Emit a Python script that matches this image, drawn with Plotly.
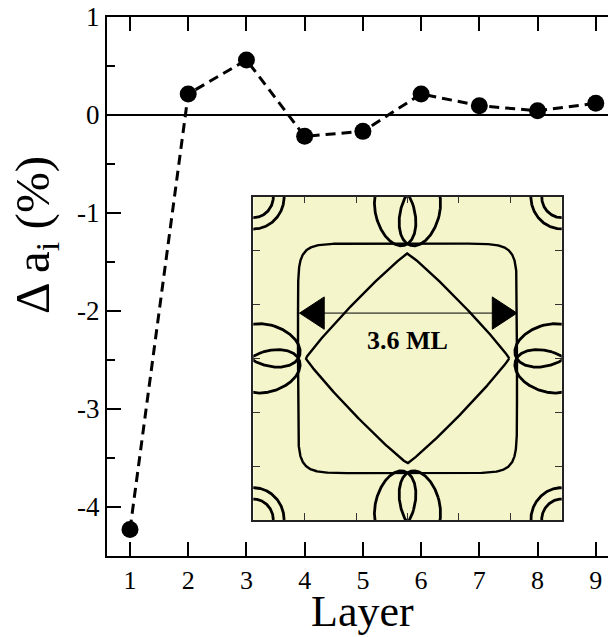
import numpy as np
import plotly.graph_objects as go

# ---- data ----
layers = [1, 2, 3, 4, 5, 6, 7, 8, 9]
delta_a = [-4.23, 0.215, 0.562, -0.218, -0.167, 0.215, 0.095, 0.044, 0.12]
x_ticks = [1, 2, 3, 4, 5, 6, 7, 8, 9]
x_tick_labels = ["1", "2", "3", "4", "5", "6", "7", "8", "9"]
y_ticks = [-4, -3, -2, -1, 0, 1]
y_tick_labels = ["-4", "-3", "-2", "-1", "0", "1"]

# ---- inset (Fermi-surface sketch) parameters ----
sq_half, sq_exp = 0.71, 10
dia_hx, dia_hy, dia_exp = 0.66, 0.65, 1.08
corner_radii = [0.13, 0.20]
leaf_center = (-0.08, 0.10)   # (along edge, depth)
leaf_axes = (0.125, 0.21)
leaf_tilt = 0.30
arrow_y, arrow_x0, arrow_x1 = 0.28, -0.70, 0.71
head_len, head_half = 0.16, 0.10
inset_label = "3.6 ML"
inset_tick_vals = [-1, -2/3, -1/3, 0, 1/3, 2/3, 1]

SERIF = "Liberation Serif"
W, H = 608, 637
ML, MR, MT, MB = 107, 0, 17, 81

fig = go.Figure()

fig.add_trace(go.Scatter(
    x=layers, y=delta_a, mode="lines+markers",
    line=dict(color="black", width=3, dash="10px,6px"),
    marker=dict(color="black", size=17),
    showlegend=False, hoverinfo="skip",
))

def add_curve(x, y, width=2.2, fill=None):
    fig.add_trace(go.Scatter(
        x=x, y=y, xaxis="x2", yaxis="y2", mode="lines",
        line=dict(color="black", width=width),
        fill=fill, fillcolor="black" if fill else None,
        showlegend=False, hoverinfo="skip",
    ))

t = np.linspace(0, 2 * np.pi, 721)

def superellipse(a, b, n):
    c, s = np.cos(t), np.sin(t)
    return a * np.sign(c) * np.abs(c) ** (2 / n), b * np.sign(s) * np.abs(s) ** (2 / n)

x, y = superellipse(sq_half, sq_half, sq_exp)
add_curve(x, y, 2.4)
x, y = superellipse(dia_hx, dia_hy, dia_exp)
add_curve(x, y, 2.4)

# corner pockets
for cx in (-1, 1):
    for cy in (-1, 1):
        for r in corner_radii:
            add_curve(cx + r * np.cos(t), cy + r * np.sin(t), 2.8)

# edge pockets (two tilted leaves each)
def leaf(sign):
    a, b = leaf_axes
    v0, u0 = leaf_center
    v0 *= sign
    phi = leaf_tilt * sign
    lv, lu = a * np.cos(t), b * np.sin(t)
    v = v0 + lv * np.cos(phi) + lu * np.sin(phi)
    u = u0 - lv * np.sin(phi) + lu * np.cos(phi)
    return v, u

for sign in (-1, 1):
    v, u = leaf(sign)
    add_curve(-1 + u, v, 2.8)
    add_curve(1 - u, v, 2.8)
    add_curve(v, 1 - u, 2.8)
    add_curve(v, -1 + u, 2.8)

# arrow
add_curve([arrow_x0, arrow_x1], [arrow_y, arrow_y], 1.0)
add_curve([arrow_x0, arrow_x0 + head_len, arrow_x0 + head_len, arrow_x0],
          [arrow_y, arrow_y + head_half, arrow_y - head_half, arrow_y], 1.0, fill="toself")
add_curve([arrow_x1, arrow_x1 - head_len, arrow_x1 - head_len, arrow_x1],
          [arrow_y, arrow_y + head_half, arrow_y - head_half, arrow_y], 1.0, fill="toself")

pw, ph = W - ML - MR, H - MT - MB
def px_x(p):
    return (p - ML) / pw
def px_y(p):
    return (H - MB - p) / ph

fig.update_layout(
    width=W, height=H,
    margin=dict(l=ML, r=MR, t=MT, b=MB),
    paper_bgcolor="white", plot_bgcolor="white",
    font=dict(family=SERIF, color="black"),
    xaxis=dict(
        range=[0.605, 9.21], tickvals=x_ticks, ticktext=x_tick_labels,
        ticks="inside", ticklen=14, tickwidth=1.5, tickcolor="black",
        showline=True, linewidth=2, linecolor="black", mirror="ticks",
        showgrid=False, zeroline=False, tickfont=dict(size=26, family=SERIF),
    ),
    yaxis=dict(
        range=[-4.5, 1.0], tickvals=y_ticks, ticktext=y_tick_labels,
        ticks="inside", ticklen=14, tickwidth=1.5, tickcolor="black",
        minor=dict(dtick=0.5, ticks="inside", ticklen=8, tickwidth=1.5, tickcolor="black"),
        showline=True, linewidth=2, linecolor="black", mirror=False,
        showgrid=False, zeroline=True, zerolinewidth=1.5, zerolinecolor="black",
        tickfont=dict(size=27, family=SERIF),
    ),
    xaxis2=dict(
        domain=[px_x(253.3), px_x(561.7)], range=[-1, 1], anchor="y2",
        tickvals=inset_tick_vals, ticks="inside", ticklen=7, tickwidth=1, tickcolor="#333",
        showticklabels=False, showline=True, linewidth=1.5, linecolor="#222",
        mirror="ticks", showgrid=False, zeroline=False,
    ),
    yaxis2=dict(
        domain=[px_y(520), px_y(196.7)], range=[-1, 1], anchor="x2",
        tickvals=inset_tick_vals, ticks="inside", ticklen=7, tickwidth=1, tickcolor="#333",
        showticklabels=False, showline=True, linewidth=1.5, linecolor="#222",
        mirror="ticks", showgrid=False, zeroline=False,
    ),
    shapes=[dict(type="rect", xref="x2", yref="y2", x0=-1, x1=1, y0=-1, y1=1,
                 fillcolor="#f5f5cb", line=dict(width=0), layer="below")],
    annotations=[
        dict(text="Δ a<sub>i</sub> (%)", xref="paper", yref="paper",
             x=px_x(35), y=px_y(235), textangle=-90, showarrow=False,
             xanchor="center", yanchor="middle", font=dict(size=49, family=SERIF)),
        dict(text="Layer", xref="paper", yref="paper",
             x=px_x(362), y=px_y(611.5), showarrow=False,
             xanchor="center", yanchor="middle", font=dict(size=44, family=SERIF)),
        dict(text="<b>" + inset_label + "</b>", xref="x2", yref="y2",
             x=0, y=0.113, showarrow=False, xanchor="center", yanchor="middle",
             font=dict(size=26, family=SERIF)),
    ],
)

fig.write_html("out.html", post_script="document.body.style.margin='0';",
               config={"displayModeBar": False})
